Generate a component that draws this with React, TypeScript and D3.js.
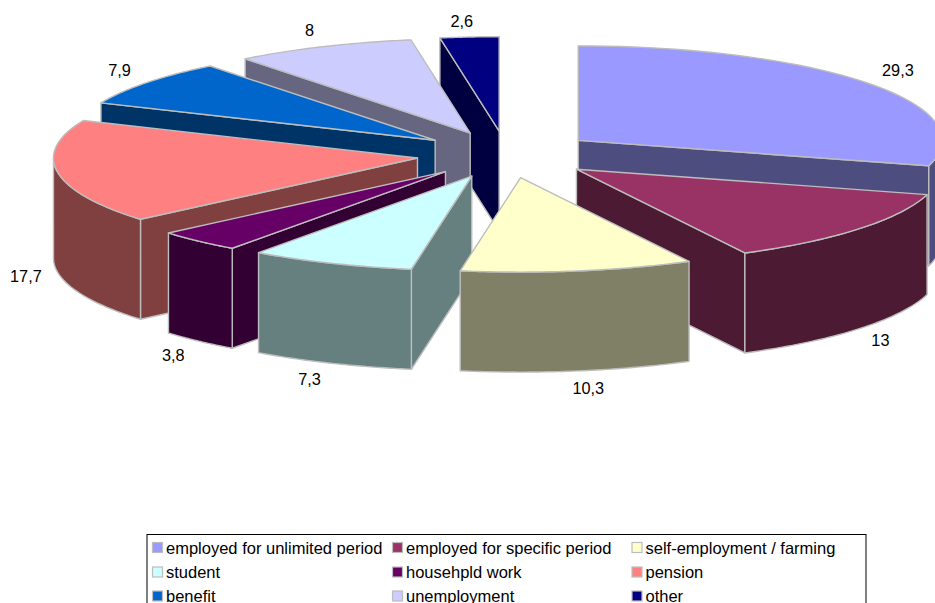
import React from "react";
import * as d3 from "d3";

// Shares of the population by main source of income, percent.
const categories = [
  "employed for unlimited period",
  "employed for specific period",
  "self-employment / farming",
  "student",
  "househpld work",
  "pension",
  "benefit",
  "unemployment",
  "other",
];
const shares = [29.3, 13, 10.3, 7.3, 3.8, 17.7, 7.9, 8, 2.6];
const shareLabels = ["29,3", "13", "10,3", "7,3", "3,8", "17,7", "7,9", "8", "2,6"];
const topColors = [
  "#9999FF", "#993366", "#FFFFCC", "#CCFFFF", "#660066",
  "#FF8080", "#0066CC", "#CCCCFF", "#000080",
];
// Small per-label corrections on top of the radial label placement, in px.
const labelNudgeX = [3.5, -4.5, 5.5, -9, -3, 1, -1, -0.5, -5];
const labelNudgeY = [-3, 1, 0.5, 0.5, 1.5, 1, -2, -1, 1];

const WIDTH = 935;
const HEIGHT = 603;
const CX = 506.5;
const CY = 154.5;
const RX = 364;
const RY = 94.5;
const DEPTH = 100;
const EXPLODE = 0.2473;
const EDGE = "#BDBDBD";
const FONT = "'Liberation Sans', Arial, sans-serif";

const sx = d3.scaleLinear().domain([-1, 1]).range([CX - RX, CX + RX]);
const sy = d3.scaleLinear().domain([-1, 1]).range([CY - RY, CY + RY]);
const line = d3.line<[number, number]>();

const arcs = d3.pie<number>().sort(null).value((d) => d)(shares);

// Side faces are the top colour at half brightness.
const shade = (c: string) => {
  const { r, g, b } = d3.rgb(c);
  return d3.rgb(r * 0.5, g * 0.5, b * 0.5).formatHex();
};

type Slice = {
  i: number;
  start: number;
  end: number;
  mid: number;
};

const slices: Slice[] = arcs.map((a, i) => ({
  i,
  start: a.startAngle,
  end: a.endAngle,
  mid: (a.startAngle + a.endAngle) / 2,
}));

// Screen position of a point on the unit disc of an exploded slice.
const project = (s: Slice, radius: number, angle: number, drop = 0): [number, number] => [
  sx(EXPLODE * Math.sin(s.mid) + radius * Math.sin(angle)),
  sy(-EXPLODE * Math.cos(s.mid) - radius * Math.cos(angle)) + drop,
];

const rim = (s: Slice, from: number, to: number, drop = 0) =>
  d3
    .range(0, 49)
    .map((k) => project(s, 1, from + ((to - from) * k) / 48, drop));

const topFace = (s: Slice) =>
  line([project(s, 0, 0), ...rim(s, s.start, s.end)]) + "Z";

const radialWall = (s: Slice, angle: number) =>
  line([
    project(s, 0, 0),
    project(s, 1, angle),
    project(s, 1, angle, DEPTH),
    project(s, 0, 0, DEPTH),
  ]) + "Z";

const outerWall = (s: Slice) => {
  const from = Math.max(s.start, Math.PI / 2);
  const to = Math.min(s.end, (3 * Math.PI) / 2);
  if (to <= from) return null;
  return line([...rim(s, from, to), ...rim(s, to, from, DEPTH)]) + "Z";
};

// Painter's order: the slices furthest from the viewer come first.
const paintOrder = [...slices].sort((a, b) => Math.cos(b.mid) - Math.cos(a.mid));

const legendColX = [152.5, 392.5, 632];
const legendRowY = [548, 572.5, 596.5];

export default function App() {
  return (
    <svg
      width={WIDTH}
      height={HEIGHT}
      viewBox={`0 0 ${WIDTH} ${HEIGHT}`}
      style={{ position: "absolute", left: 0, top: 0, background: "#fff" }}
    >
      <g stroke={EDGE} strokeWidth={1.4} strokeLinejoin="round">
        {paintOrder.map((s) => {
          const color = topColors[s.i];
          const side = shade(color);
          const outer = outerWall(s);
          return (
            <g key={categories[s.i]}>
              {Math.sin(s.start) < -1e-6 && <path d={radialWall(s, s.start)} fill={side} />}
              {Math.sin(s.end) > 1e-6 && <path d={radialWall(s, s.end)} fill={side} />}
              {outer && <path d={outer} fill={side} />}
              <path d={topFace(s)} fill={color} />
            </g>
          );
        })}
      </g>

      <g fontFamily={FONT} fontSize={16.3} fill="#000" textAnchor="middle">
        {slices.map((s) => {
          const [rx0, ry0] = project(s, 1, s.mid, Math.cos(s.mid) < 0 ? DEPTH : 0);
          return (
            <text
              key={categories[s.i]}
              x={rx0 + 33 * Math.sin(s.mid) + labelNudgeX[s.i]}
              y={ry0 - 17 * Math.cos(s.mid) + labelNudgeY[s.i]}
              dominantBaseline="central"
            >
              {shareLabels[s.i]}
            </text>
          );
        })}
      </g>

      <rect x={147} y={534.5} width={719} height={90} fill="none" stroke="#000" strokeWidth={1} />
      <g fontFamily={FONT} fontSize={16.5} fill="#000">
        {categories.map((name, i) => {
          const x = legendColX[i % 3];
          const y = legendRowY[Math.floor(i / 3)];
          return (
            <g key={name}>
              <rect
                x={x}
                y={y - 5.5}
                width={10}
                height={10}
                fill={topColors[i]}
                stroke={EDGE}
                strokeWidth={1.2}
              />
              <text x={x + 13.5} y={y - 0.5} dominantBaseline="central">
                {name}
              </text>
            </g>
          );
        })}
      </g>
    </svg>
  );
}
